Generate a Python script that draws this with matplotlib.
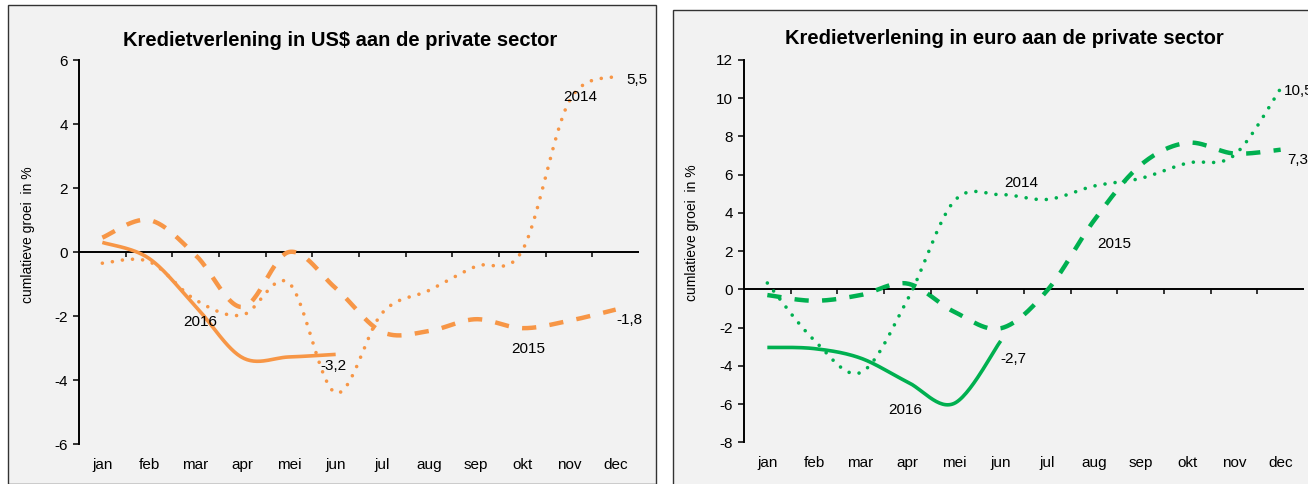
import matplotlib
matplotlib.use("Agg")
import matplotlib.pyplot as plt
import numpy as np
from matplotlib.patches import Rectangle

plt.rcParams['font.family'] = ['Liberation Sans', 'DejaVu Sans']
plt.rcParams['axes.unicode_minus'] = False

months = ['jan', 'feb', 'mar', 'apr', 'mei', 'jun', 'jul', 'aug', 'sep', 'okt', 'nov', 'dec']

# cumulatieve groei in % (US$)
usd_2014 = [-0.35, -0.3, -1.5, -1.97, -0.97, -4.4, -1.9, -1.2, -0.45, 0.05, 4.7, 5.5]
usd_2015 = [0.45, 1.0, -0.1, -1.72, 0.0, -1.13, -2.5, -2.47, -2.1, -2.38, -2.15, -1.8]
usd_2016 = [0.3, -0.2, -1.7, -3.3, -3.28, -3.2]

# cumulatieve groei in % (euro)
eur_2014 = [0.33, -2.65, -4.35, -0.56, 4.6, 4.95, 4.7, 5.4, 5.8, 6.6, 7.0, 10.5]
eur_2015 = [-0.3, -0.6, -0.3, 0.3, -1.17, -2.04, -0.05, 3.6, 6.5, 7.66, 7.1, 7.3]
eur_2016 = [-3.04, -3.1, -3.6, -4.84, -5.97, -2.7]

ORANGE = '#f79646'
GREEN = '#00b050'
BG = '#f2f2f2'


def smooth(values, n=30):
    # Excel-achtige gladde lijn (bezier met 1/6 controlepunten)
    y = np.asarray(values, float)
    x = np.arange(len(y), dtype=float)
    pts = np.column_stack([x, y])
    padded = np.vstack([pts[0], pts, pts[-1]])
    out = [pts[0]]
    t = np.linspace(0, 1, n)[1:, None]
    for i in range(len(pts) - 1):
        p0, p1, p2, p3 = padded[i], padded[i + 1], padded[i + 2], padded[i + 3]
        b1 = p1 + (p2 - p0) / 6
        b2 = p2 - (p3 - p1) / 6
        seg = ((1 - t) ** 3) * p1 + 3 * ((1 - t) ** 2) * t * b1 + 3 * (1 - t) * t ** 2 * b2 + t ** 3 * p2
        out.extend(seg)
    out = np.array(out)
    return out[:, 0], out[:, 1]


def draw_panel(ax, s14, s15, s16, color, ylim, ystep, labels, ticklen, ylab_pos):
    ax.set_facecolor('none')
    x, y = smooth(s14)
    ax.plot(x, y, color=color, lw=2.6, linestyle=(0, (0.01, 2.8)), dash_capstyle='round')
    x, y = smooth(s15)
    ax.plot(x, y, color=color, lw=3.2, linestyle=(0, (3.2, 3.0)), dash_capstyle='butt')
    x, y = smooth(s16)
    ax.plot(x, y, color=color, lw=2.6, solid_capstyle='butt')

    ax.set_xlim(-0.5, len(months) - 0.5)
    ax.set_ylim(*ylim)
    ax.axhline(0, color='black', lw=1.4, zorder=1)
    bounds = np.arange(0.5, len(months) - 0.5, 1.0)
    ax.vlines(bounds, 0, -ticklen, color='black', lw=1.1)

    for s in ['top', 'right', 'bottom']:
        ax.spines[s].set_visible(False)
    ax.spines['left'].set_linewidth(1.4)
    ax.set_yticks(np.arange(ylim[0], ylim[1] + 0.1, ystep))
    ax.tick_params(axis='y', direction='out', length=4, width=1.1, labelsize=11, pad=4)
    ax.set_xticks(range(len(months)))
    ax.set_xticklabels(months)
    ax.tick_params(axis='x', length=0, labelsize=11, pad=10)
    ax.set_ylabel('cumlatieve groei  in %', fontsize=10)
    ax.yaxis.set_label_coords(*ylab_pos)
    for txt, tx, ty, ha in labels:
        ax.text(tx, ty, txt, fontsize=11, ha=ha, va='center')


fig = plt.figure(figsize=(13.08, 4.84), dpi=100)
W, H = 1308, 484

fig.patches.append(Rectangle((8 / W, 0), (656 - 8) / W, (H - 10) / H + 0.01,
                             transform=fig.transFigure, facecolor=BG,
                             edgecolor='#333333', lw=1.0, zorder=-10))
fig.patches.append(Rectangle((673 / W, -0.01), 0.5, (H - 10) / H + 0.01,
                             transform=fig.transFigure, facecolor=BG,
                             edgecolor='#333333', lw=1.0, zorder=-10))

ax1 = fig.add_axes([79 / W, (H - 444) / H, (639 - 79) / W, (444 - 60) / H])
draw_panel(ax1, usd_2014, usd_2015, usd_2016, ORANGE, (-6, 6), 2,
           [('2014', 10.24, 4.85, 'center'), ('5,5', 11.23, 5.37, 'left'),
            ('2016', 2.1, -2.19, 'center'), ('-3,2', 4.95, -3.56, 'center'),
            ('2015', 9.13, -3.03, 'center'), ('-1,8', 11.29, -2.12, 'center')],
           0.16, (-0.078, 0.544))
fig.text(340 / W, 1 - 40 / H, 'Kredietverlening in US$ aan de private sector',
         fontsize=14.5, fontweight='bold', ha='center', va='center')

ax2 = fig.add_axes([744 / W, (H - 442.3) / H, (1304 - 744) / W, (442.3 - 59.8) / H])
draw_panel(ax2, eur_2014, eur_2015, eur_2016, GREEN, (-8, 12), 2,
           [('2014', 5.44, 5.57, 'center'), ('2015', 7.44, 2.37, 'center'),
            ('10,5', 11.06, 10.38, 'left'), ('7,3', 11.14, 6.77, 'left'),
            ('2016', 2.96, -6.32, 'center'), ('-2,7', 5.27, -3.65, 'center')],
           0.26, (-0.080, 0.547))
fig.text(1004 / W, 1 - 39 / H, 'Kredietverlening in euro aan de private sector',
         fontsize=14.5, fontweight='bold', ha='center', va='center')

fig.savefig('out.png', dpi=100)
